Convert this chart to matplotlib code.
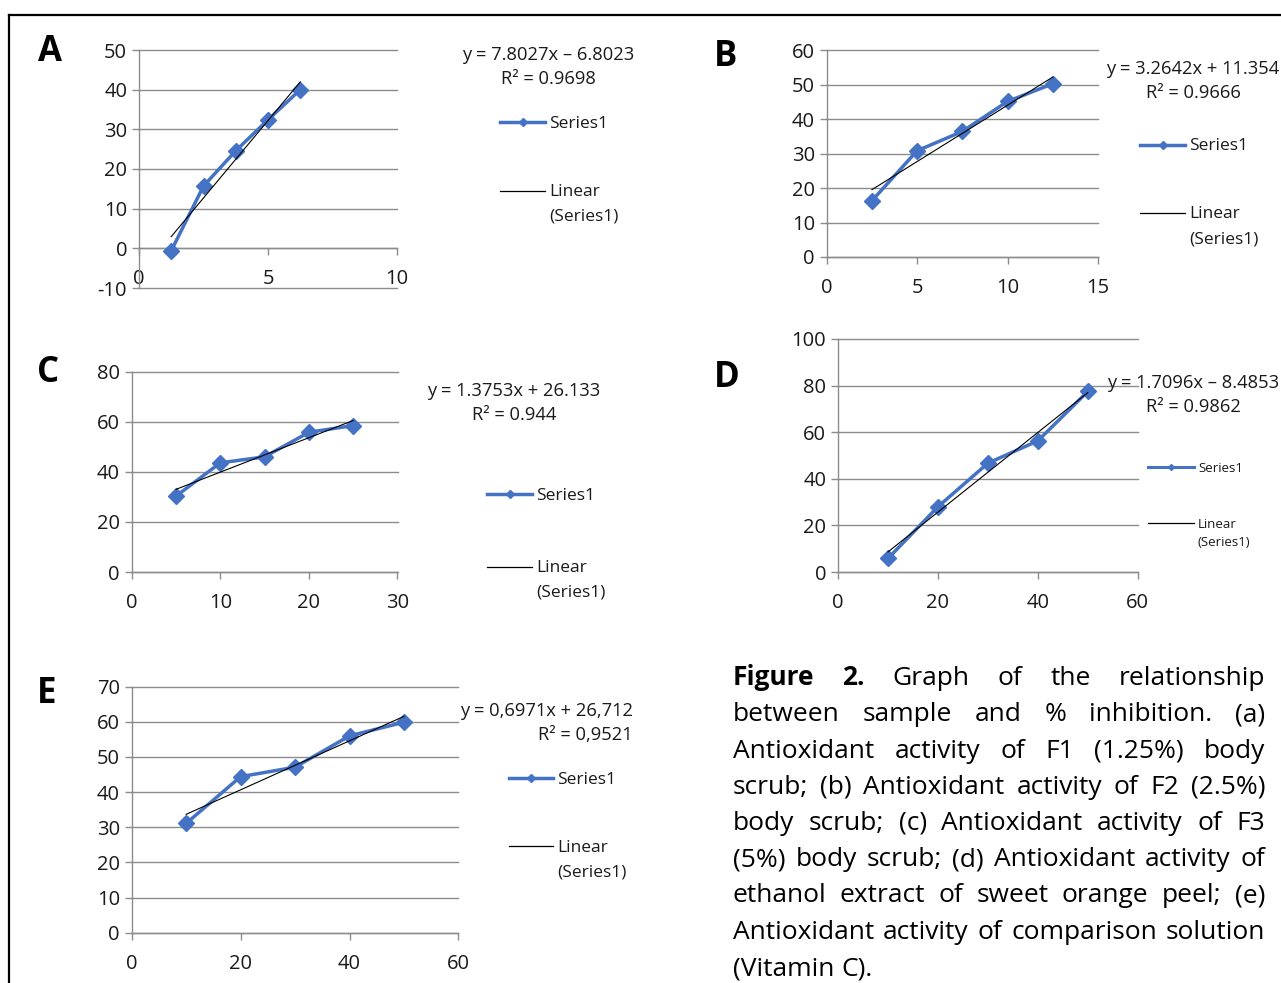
import matplotlib
matplotlib.use("Agg")
import matplotlib.pyplot as plt
from matplotlib.lines import Line2D

W, H = 1281, 983
BLUE, GRID, FG = "#4472c4", "#8c8c8c", "#1a1a1a"
FONT = "Open Sans"
TEXT_NUDGE = 1.5  # px: va="center" sits a touch high for this font

plt.rcParams["font.family"] = [FONT, "DejaVu Sans"]
plt.rcParams["axes.unicode_minus"] = False

# ---------------------------------------------------------------- data

A_X = [1.25, 2.5, 3.75, 5, 6.25]
A_Y = [-0.6, 15.7, 24.6, 32.4, 40.0]
B_X = [2.5, 5, 7.5, 10, 12.5]
B_Y = [16.3, 30.8, 36.4, 45.1, 50.2]
C_X = [5, 10, 15, 20, 25]
C_Y = [30.3, 43.6, 46.0, 55.8, 58.5]
D_X = [10, 20, 30, 40, 50]
D_Y = [5.8, 28.0, 46.7, 56.3, 77.5]
E_X = [10, 20, 30, 40, 50]
E_Y = [31.1, 44.4, 47.1, 56.0, 59.9]

SLOPES = [7.8027, 3.2642, 1.3753, 1.7096, 0.6971]
INTERCEPTS = [-6.8023, 11.354, 26.133, -8.4853, 26.712]
EQUATIONS = [
    "y = 7.8027x – 6.8023",
    "y = 3.2642x + 11.354",
    "y = 1.3753x + 26.133",
    "y = 1.7096x – 8.4853",
    "y = 0,6971x + 26,712",
]
R2_LABELS = ["R² = 0.9698", "R² = 0.9666", "R² = 0.944", "R² = 0.9862", "R² = 0,9521"]
LETTERS = ["A", "B", "C", "D", "E"]
XTICKS = [[0, 5, 10], [0, 5, 10, 15], [0, 10, 20, 30], [0, 20, 40, 60], [0, 20, 40, 60]]
YTICKS = [
    list(range(-10, 51, 10)),
    list(range(0, 61, 10)),
    list(range(0, 81, 20)),
    list(range(0, 101, 20)),
    list(range(0, 71, 10)),
]

CAPTION = [
    [("Figure", True), ("2.", True), ("Graph", False), ("of", False), ("the", False),
     ("relationship", False)],
    "between sample and % inhibition. (a)",
    "Antioxidant activity of F1 (1.25%) body",
    "scrub; (b) Antioxidant activity of F2 (2.5%)",
    "body scrub; (c) Antioxidant activity of F3",
    "(5%) body scrub; (d) Antioxidant activity of",
    "ethanol extract of sweet orange peel; (e)",
    "Antioxidant activity of comparison solution",
    "(Vitamin C).",
]

# ---------------------------------------------------------------- layout (pixels)

# box = (left, top, right, bottom); eq = (x, y, ha); legend = (x0, x1, y_series, y_linear, y_paren, fs)
LAYOUT = [
    dict(box=(139, 50, 397, 288), letter=(50, 52), eq=(548, 53, "center"), r2y=77,
         legend=(500, 545, 122, 191, 215, 12.5)),
    dict(box=(826.7, 50, 1098, 257), letter=(726, 57), eq=(1193, 68, "center"), r2y=92,
         legend=(1140, 1185, 145, 213, 238, 12.5)),
    dict(box=(131.7, 371.7, 397.5, 572), letter=(48, 373), eq=(514, 390, "center"), r2y=414,
         legend=(487, 532, 494, 567, 591, 12.5)),
    dict(box=(838, 339, 1137.8, 572), letter=(727, 378), eq=(1193, 381, "center"), r2y=405,
         legend=(1148, 1194, 467, 523, 541, 9.5)),
    dict(box=(131.7, 686.7, 458.4, 932.7), letter=(47, 694), eq=(633, 709, "right"), r2y=734,
         legend=(509, 553, 778, 846, 871, 12.5)),
]


def fx(x):
    return x / W


def fy(y):
    return 1 - y / H


def panel(fig, lay, xs, ys, slope, icpt, eq, r2, letter, xt, yt):
    x0, y0, x1, y1 = lay["box"]
    ax = fig.add_axes([fx(x0), fy(y1), (x1 - x0) / W, (y1 - y0) / H])
    ax.set_xlim(xt[0], xt[-1])
    ax.set_ylim(yt[0], yt[-1])
    ax.set_xticks(xt)
    ax.set_yticks(yt)
    for s in ("top", "right"):
        ax.spines[s].set_visible(False)
    for s in ("left", "bottom"):
        ax.spines[s].set_color(GRID)
        ax.spines[s].set_linewidth(1.0)
    if yt[0] < 0:
        ax.spines["bottom"].set_position(("data", 0))
    ax.tick_params(direction="out", length=5, width=1.0, color=GRID,
                   labelsize=14.5, labelcolor=FG, pad=3.5)
    ax.tick_params(axis="x", pad=10)
    ax.yaxis.grid(True, color=GRID, linewidth=1.0)
    for gl in ax.get_ygridlines():
        gl.set_clip_on(False)
    ax.set_axisbelow(True)
    ax.set_facecolor("none")

    ax.plot(xs, ys, color=BLUE, linewidth=2.5, marker="D", markersize=8,
            zorder=3, clip_on=False)
    tx = [xs[0], xs[-1]]
    ax.plot(tx, [slope * v + icpt for v in tx], color="black", linewidth=0.8,
            zorder=4, clip_on=False)

    lx, ly = lay["letter"]
    fig.text(fx(lx), fy(ly), letter, fontsize=25, fontweight="bold",
             ha="center", va="center", color="black")

    ex, ey, ha = lay["eq"]
    n = TEXT_NUDGE
    fig.text(fx(ex), fy(ey + n), eq, fontsize=13.2, ha=ha, va="center", color=FG)
    fig.text(fx(ex), fy(lay["r2y"] + n), r2, fontsize=13.2, ha=ha, va="center", color=FG)

    a, b, ys_, yl, yp, fs = lay["legend"]
    small = fs < 11
    fig.add_artist(Line2D([fx(a), fx(b)], [fy(ys_)] * 2, color=BLUE,
                          linewidth=2.5 if not small else 2.2))
    fig.add_artist(Line2D([fx((a + b) / 2)], [fy(ys_)], color=BLUE, marker="D",
                          markersize=4 if not small else 3))
    fig.add_artist(Line2D([fx(a), fx(b)], [fy(yl)] * 2, color="black", linewidth=0.9))
    tx0 = fx(b + 4)
    fig.text(tx0, fy(ys_ + n), "Series1", fontsize=fs, ha="left", va="center", color=FG)
    fig.text(tx0, fy(yl + n), "Linear", fontsize=fs, ha="left", va="center", color=FG)
    fig.text(tx0, fy(yp + n), "(Series1)", fontsize=fs, ha="left", va="center", color=FG)
    return ax


def caption(fig, left, right, top, step, fs):
    fig.canvas.draw()
    r = fig.canvas.get_renderer()
    probe1 = fig.text(0, 0, "a b", fontsize=fs)
    probe2 = fig.text(0, 0, "ab", fontsize=fs)
    normal_space = probe1.get_window_extent(r).width - probe2.get_window_extent(r).width
    probe1.remove()
    probe2.remove()
    for i, line in enumerate(CAPTION):
        words = line if isinstance(line, list) else [(w, False) for w in line.split()]
        y = fy(top + i * step)
        arts = [fig.text(0, y, w, fontsize=fs, fontweight="bold" if bold else "normal",
                         ha="left", va="baseline", color="black") for w, bold in words]
        widths = [t.get_window_extent(r).width for t in arts]
        if i == len(CAPTION) - 1:
            space = normal_space
        else:
            space = (right - left - sum(widths)) / (len(words) - 1)
        x = left
        for t, w in zip(arts, widths):
            t.set_x(fx(x))
            x += w + space


def main():
    fig = plt.figure(figsize=(W / 100, H / 100), dpi=100, facecolor="white")
    data = [(A_X, A_Y), (B_X, B_Y), (C_X, C_Y), (D_X, D_Y), (E_X, E_Y)]
    for i, (xs, ys) in enumerate(data):
        panel(fig, LAYOUT[i], xs, ys, SLOPES[i], INTERCEPTS[i], EQUATIONS[i],
              R2_LABELS[i], LETTERS[i], XTICKS[i], YTICKS[i])

    # frame: top and left rules of the figure box
    fig.add_artist(Line2D([fx(8.5), 1], [fy(14.7)] * 2, color="black", linewidth=1.6))
    fig.add_artist(Line2D([fx(8.5)] * 2, [fy(14.7), 0], color="black", linewidth=1.6))

    caption(fig, 733, 1265, 685, 36.25, 19)
    fig.savefig("out.png", dpi=100, facecolor="white")


if __name__ == "__main__":
    main()
